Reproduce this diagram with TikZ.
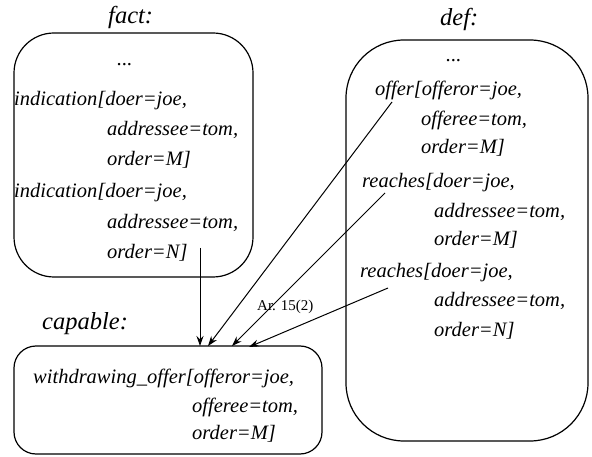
\documentclass[tikz,border=0pt]{standalone}
\usepackage{fontspec}
\setmainfont{Liberation Serif}
\usetikzlibrary{arrows.meta}
\begin{document}
\begin{tikzpicture}[x=1pt,y=-1pt,
  box/.style={draw,line width=1.2pt,inner sep=0pt},
  txt/.style={anchor=base west,inner sep=0pt,font=\fontsize{20.5}{24}\selectfont\itshape},
  ttl/.style={anchor=base west,inner sep=0pt,font=\fontsize{24.5}{28}\selectfont\itshape},
  lbl/.style={anchor=base west,inner sep=0pt,font=\fontsize{15}{18}\selectfont},
  arr/.style={line width=1pt,-{Stealth[length=10pt,width=7pt]}}]
\useasboundingbox (0,0) rectangle (592,457);
% boxes
\node[box,rounded corners=40pt,minimum width=239pt,minimum height=244pt] (fact) at (133.5,155) {};
\node[box,rounded corners=58pt,minimum width=242pt,minimum height=401pt] (def) at (467,240.5) {};
\node[box,rounded corners=22pt,minimum width=308pt,minimum height=108pt] (cap) at (168,400) {};
% titles
\node[ttl] (tfact) at (108,24) {fact:};
\node[ttl] (tdef) at (440,26) {def:};
\node[ttl] (tcap) at (42,330) {capable:};
% fact text
\node[txt] (f0) at (117,66) {...};
\node[txt] (f1) at (14,106) {indication[doer=joe,};
\node[txt] (f2) at (107,136) {addressee=tom,};
\node[txt] (f3) at (107,166) {order=M]};
\node[txt] (f4) at (14,198) {indication[doer=joe,};
\node[txt] (f5) at (107,229) {addressee=tom,};
\node[txt] (f6) at (107,259) {order=N]};
% def text
\node[txt] (d0) at (446,62) {...};
\node[txt] (d1) at (375,96) {offer[offeror=joe,};
\node[txt] (d2) at (421,126) {offeree=tom,};
\node[txt] (d3) at (421,154) {order=M]};
\node[txt] (d4) at (362,188) {reaches[doer=joe,};
\node[txt] (d5) at (434,218) {addressee=tom,};
\node[txt] (d6) at (434,246) {order=M]};
\node[txt] (d7) at (360,278) {reaches[doer=joe,};
\node[txt] (d8) at (434,306) {addressee=tom,};
\node[txt] (d9) at (434,336) {order=N]};
% capable text
\node[txt] (c1) at (33,383) {withdrawing\_offer[offeror=joe,};
\node[txt] (c2) at (192,412) {offeree=tom,};
\node[txt] (c3) at (192,439) {order=M]};
% label
\node[lbl] (art) at (257,311) {Ar. 15(2)};
% arrow ends
\coordinate (s1) at (200,248);
\coordinate (s2) at (392,102);
\coordinate (s3) at (385,193);
\coordinate (s4) at (388,288);
\coordinate (e1) at (200,346);
\coordinate (e2) at (208,346);
\coordinate (e3) at (232,346);
\coordinate (e4) at (249,347);
\draw[arr] (s1) -- (e1);
\draw[arr] (s2) -- (e2);
\draw[arr] (s3) -- (e3);
\draw[arr] (s4) -- (e4);
\end{tikzpicture}
\end{document}
